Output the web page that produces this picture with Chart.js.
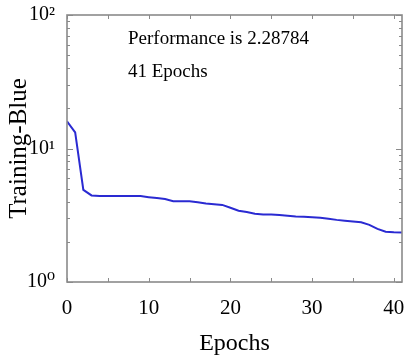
<!DOCTYPE html>
<html>
<head>
<meta charset="utf-8">
<script src="https://cdn.jsdelivr.net/npm/chart.js@4.4.1/dist/chart.umd.min.js"></script>
<style>
  html, body { margin: 0; padding: 0; background: #fff; }
  #wrap { width: 404px; height: 360px; }
</style>
</head>
<body>
<div id="wrap"><canvas id="chartPerf"></canvas></div>
<script>
// Datos
const epochs = [0, 1, 2, 3, 4, 5, 6, 7, 8, 9, 10, 11, 12, 13, 14, 15, 16, 17, 18, 19, 20,
                21, 22, 23, 24, 25, 26, 27, 28, 29, 30, 31, 32, 33, 34, 35, 36, 37, 38, 39, 40, 41];
const trainingBlue = [16, 13.2, 4.9, 4.45, 4.4, 4.4, 4.4, 4.4, 4.4, 4.4, 4.32, 4.25, 4.18, 4.03,
                      4.03, 4.03, 3.95, 3.87, 3.82, 3.78, 3.6, 3.42, 3.35, 3.25, 3.2, 3.2, 3.17,
                      3.13, 3.1, 3.08, 3.06, 3.03, 2.98, 2.92, 2.88, 2.84, 2.8, 2.68, 2.5, 2.38,
                      2.36, 2.35];
const xTicks = [0, 10, 20, 30, 40];
const xMinorTicks = [0, 5, 10, 15, 20, 25, 30, 35, 40];
const yTicks = [1, 10, 100];
const supers = { 0: '\u2070', 1: '\u00b9', 2: '\u00b2' };
const notes = ['Performance is 2.28784', '41 Epochs'];

const SERIF = '"Liberation Serif", "DejaVu Serif", serif';

// marco y marcas hacia dentro
const framePlugin = {
    id: 'frame',
    afterDraw(chart) {
        const ctx = chart.ctx;
        const a = chart.chartArea;
        const xs = chart.scales.x;
        const ys = chart.scales.y;
        ctx.save();
        ctx.strokeStyle = '#8a8a8a';
        ctx.lineWidth = 1;
        xMinorTicks.forEach(function (v) {
            const px = Math.round(xs.getPixelForValue(v)) + 0.5;
            ctx.beginPath();
            ctx.moveTo(px, a.bottom); ctx.lineTo(px, a.bottom - 4);
            ctx.moveTo(px, a.top); ctx.lineTo(px, a.top + 4);
            ctx.stroke();
        });
        [1, 10].forEach(function (dec) {
            for (let m = 1; m <= 10; m++) {
                const v = dec * m;
                const py = Math.round(ys.getPixelForValue(v)) + 0.5;
                const len = (m === 1 || m === 10) ? 6 : 3;
                ctx.beginPath();
                ctx.moveTo(a.left, py); ctx.lineTo(a.left + len, py);
                ctx.moveTo(a.right, py); ctx.lineTo(a.right - len, py);
                ctx.stroke();
            }
        });
        ctx.lineWidth = 1.6;
        ctx.strokeRect(a.left, a.top, a.right - a.left, a.bottom - a.top);

        ctx.fillStyle = '#000';
        ctx.font = '19px ' + SERIF;
        ctx.textBaseline = 'alphabetic';
        ctx.fillText(notes[0], a.left + 61, a.top + 29);
        ctx.fillText(notes[1], a.left + 61, a.top + 62);
        ctx.restore();
    }
};

const ctx = document.getElementById('chartPerf').getContext('2d');
new Chart(ctx, {
    type: 'line',
    data: {
        datasets: [{
            label: 'Training-Blue',
            data: epochs.map(function (e, i) { return { x: e, y: trainingBlue[i] }; }),
            borderColor: '#2a2ad2',
            borderWidth: 2,
            pointRadius: 0,
            tension: 0,
            fill: false
        }]
    },
    options: {
        responsive: true,
        maintainAspectRatio: false,
        animation: false,
        layout: { padding: { top: 15, right: 2, left: 0, bottom: 0 } },
        plugins: {
            legend: { display: false },
            tooltip: { enabled: false }
        },
        scales: {
            x: {
                type: 'linear',
                min: 0,
                max: 41,
                grid: { display: false },
                border: { display: false },
                afterBuildTicks: function (s) { s.ticks = xTicks.map(function (v) { return { value: v }; }); },
                afterFit: function (s) {
                    s.height = 78;
                    s.paddingLeft = 0;
                    s.paddingRight = 0;
                },
                ticks: {
                    color: '#000',
                    font: { family: SERIF, size: 21 },
                    padding: 6,
                    maxRotation: 0
                },
                title: {
                    display: true,
                    text: 'Epochs',
                    color: '#000',
                    font: { family: SERIF, size: 24 },
                    padding: { top: 2, bottom: 2 }
                }
            },
            y: {
                type: 'logarithmic',
                min: 1,
                max: 100,
                grid: { display: false },
                border: { display: false },
                afterBuildTicks: function (s) { s.ticks = yTicks.map(function (v) { return { value: v }; }); },
                afterFit: function (s) {
                    s.width = 67;
                    s.paddingTop = 0;
                    s.paddingBottom = 0;
                },
                ticks: {
                    color: '#000',
                    font: { family: SERIF, size: 20 },
                    padding: 4,
                    callback: function (v) { return '10' + supers[Math.round(Math.log10(v))]; }
                },
                title: {
                    display: true,
                    text: 'Training-Blue',
                    color: '#000',
                    font: { family: SERIF, size: 25 },
                    padding: { top: 4, bottom: 0 }
                }
            }
        }
    },
    plugins: [framePlugin]
});
</script>
</body>
</html>
